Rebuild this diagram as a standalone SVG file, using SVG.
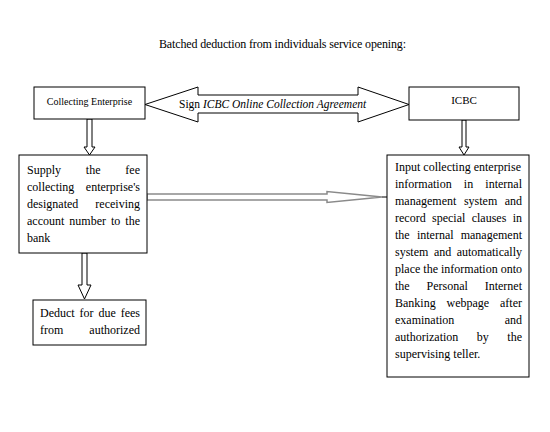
<svg xmlns="http://www.w3.org/2000/svg" width="550" height="432" viewBox="0 0 550 432">
<style>
text{font-family:'Liberation Serif','Times New Roman',Times,'DejaVu Serif',serif;fill:#000;font-size:12px}
.box{fill:#fff;stroke:#000;stroke-width:1}
.arr{fill:#fff;stroke:#000;stroke-width:1}
.grey{fill:#fff;stroke:#8a8a8a;stroke-width:1.5}
.e{text-anchor:end}
</style>
<rect width="550" height="432" fill="#fff"/>
<text id="title" x="159" y="48" textLength="247" lengthAdjust="spacing">Batched deduction from individuals service opening:</text>
<g id="connectors">
<polygon class="arr" points="145,104.5 198,87 198,95 358,95 358,87 409,104.5 358,122 358,113 198,113 198,122"/>
<text x="179" y="108" style="font-size:11.5px">Sign <tspan font-style="italic">ICBC Online Collection Agreement</tspan></text>
<polygon class="arr" points="87,119 92,119 92,147 95,147 89.5,155 84,147 87,147"/>
<polygon class="arr" points="462,120 466,120 466,147 469,147 464,155 459,147 462,147"/>
<polygon class="arr" points="82,253 87,253 87,285 91,285 84.5,299 78,285 82,285"/>
<polygon class="grey" points="147,194 327,194 327,191.5 362,195 382,197 362,199 327,202.5 327,200 147,200"/>
<line x1="382" y1="197" x2="387" y2="197" stroke="#000" stroke-width="1"/>
</g>
<g id="collecting-enterprise">
<rect class="box" x="34" y="87" width="111" height="32"/>
<text x="89.5" y="105" text-anchor="middle" style="font-size:10px">Collecting Enterprise</text>
</g>
<g id="icbc">
<rect class="box" x="409" y="87" width="110" height="33"/>
<text x="464" y="104" text-anchor="middle" style="font-size:11px">ICBC</text>
</g>
<g id="supply">
<rect class="box" x="19" y="155" width="128" height="98"/>
<text x="27" y="174">Supply</text><text x="85.8" y="174">the</text><text class="e" x="140" y="174">fee</text>
<text x="27" y="191">collecting</text><text class="e" x="140" y="191">enterprise's</text>
<text x="27" y="208">designated</text><text class="e" x="140" y="208">receiving</text>
<text x="27" y="225">account</text><text x="69.3" y="225">number</text><text x="111" y="225">to</text><text class="e" x="140" y="225">the</text>
<text x="27" y="242">bank</text>
</g>
<g id="input">
<rect class="box" x="387" y="155" width="142" height="222"/>
<text x="395" y="171">Input collecting enterprise</text>
<text x="395" y="188">information</text><text x="463.8" y="188">in</text><text class="e" x="522" y="188">internal</text>
<text x="395" y="205">management</text><text x="463.9" y="205">system</text><text class="e" x="522" y="205">and</text>
<text x="395" y="222">record</text><text x="432" y="222">special</text><text x="471.7" y="222">clauses</text><text class="e" x="522" y="222">in</text>
<text x="395" y="239">the</text><text x="416.9" y="239">internal</text><text class="e" x="522" y="239">management</text>
<text x="395" y="256">system</text><text x="433.9" y="256">and</text><text class="e" x="522" y="256">automatically</text>
<text x="395" y="273">place</text><text x="423.3" y="273">the</text><text x="441" y="273">information</text><text class="e" x="522" y="273">onto</text>
<text x="395" y="290">the</text><text x="426.5" y="290">Personal</text><text class="e" x="522" y="290">Internet</text>
<text x="395" y="307">Banking</text><text x="446.5" y="307">webpage</text><text class="e" x="522" y="307">after</text>
<text x="395" y="324">examination</text><text class="e" x="522" y="324">and</text>
<text x="395" y="341">authorization</text><text x="476.8" y="341">by</text><text class="e" x="522" y="341">the</text>
<text x="395" y="358">supervising teller.</text>
</g>
<g id="deduct">
<rect class="box" x="33" y="300" width="113" height="45"/>
<text x="40" y="317">Deduct</text><text x="79.6" y="317">for</text><text x="98.5" y="317">due</text><text class="e" x="140" y="317">fees</text>
<text x="40" y="334">from</text><text class="e" x="140" y="334">authorized</text>
</g>
</svg>
